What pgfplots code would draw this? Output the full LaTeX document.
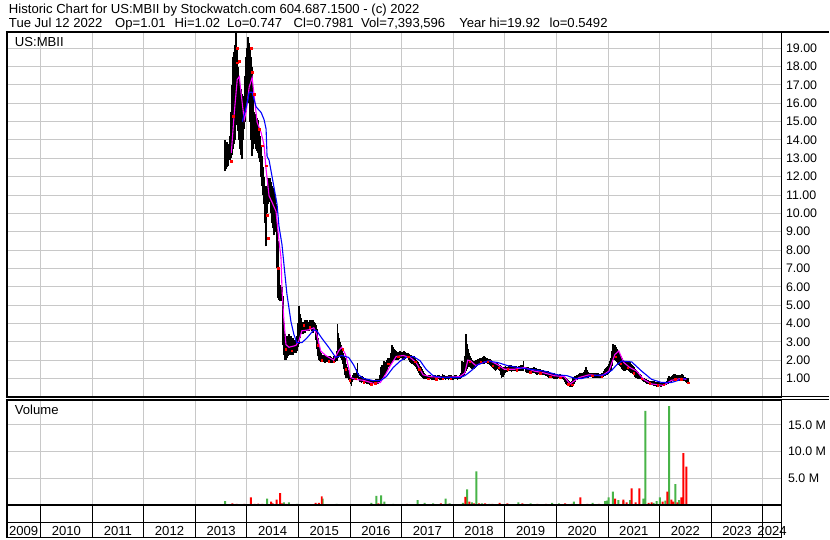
\documentclass[border=0pt]{standalone}
\usepackage{pgfplots}
\usepackage{pgfplotstable}
\pgfplotsset{compat=1.18}
\usepackage{fontspec}
\setmainfont{Liberation Sans}
\definecolor{bgc}{RGB}{255,255,255}
\definecolor{gridc}{RGB}{200,200,200}
\definecolor{volg}{RGB}{72,180,72}
\definecolor{magc}{RGB}{255,0,255}
\newcommand{\cf}{\fontsize{12.5}{14}\selectfont}
\newcommand{\hf}{\fontsize{13.2}{15}\selectfont}

\pgfplotstableread{
x lo hi
2013.582 12.3 14.0
2013.601 12.4 13.9
2013.621 12.5 13.9
2013.640 12.6 13.8
2013.659 12.9 13.8
2013.679 12.9 14.2
2013.698 13.0 15.5
2013.717 13.2 17.0
2013.736 13.5 18.5
2013.756 13.8 18.8
2013.775 14.0 19.2
2013.794 15.0 19.9
2013.813 14.8 19.0
2013.833 14.5 18.0
2013.852 14.0 17.5
2013.871 13.5 17.0
2013.891 13.2 16.8
2013.910 12.96 16.5
2013.929 14.0 16.4
2013.948 14.6 16.4
2013.968 15.0 17.5
2013.987 15.5 18.5
2014.006 16.0 19.0
2014.025 16.5 19.6
2014.045 16.0 19.3
2014.064 15.0 19.0
2014.083 14.0 18.5
2014.102 13.1 18.0
2014.122 13.5 16.5
2014.141 14.0 15.5
2014.160 13.8 15.4
2014.179 13.5 15.3
2014.199 13.4 15.2
2014.218 13.3 15.1
2014.237 13.0 14.6
2014.256 12.8 14.2
2014.276 12.0 13.6
2014.295 11.5 13.1
2014.314 11.0 12.5
2014.334 10.5 12.0
2014.353 9.5 11.5
2014.372 8.2 11.0
2014.391 10.0 11.5
2014.411 10.5 11.9
2014.430 10.6 11.9
2014.449 10.6 11.9
2014.468 10.0 11.7
2014.488 9.5 11.5
2014.507 9.2 11.4
2014.526 8.8 11.3
2014.545 9.0 10.9
2014.565 9.3 10.5
2014.584 7.0 9.5
2014.603 5.4 8.5
2014.622 5.3 7.0
2014.642 5.2 6.1
2014.661 5.2 6.0
2014.680 5.3 6.0
2014.699 2.8 5.5
2014.718 2.3 4.0
2014.738 2.0 3.4
2014.757 2.0 3.3
2014.776 2.1 3.2
2014.796 2.2 3.3
2014.815 2.3 3.4
2014.834 2.3 3.3
2014.854 2.4 3.3
2014.873 2.3 3.2
2014.892 2.3 3.2
2014.911 2.4 3.1
2014.931 2.4 3.0
2014.950 2.4 3.2
2014.969 2.5 3.3
2014.989 2.7 4.0
2015.008 2.9 4.95
2015.027 3.2 4.5
2015.046 3.4 4.3
2015.065 3.4 4.1
2015.085 3.4 4.0
2015.104 3.5 4.1
2015.123 3.5 4.2
2015.142 3.6 4.2
2015.162 3.6 4.2
2015.181 3.6 4.1
2015.200 3.6 4.1
2015.219 3.7 4.2
2015.239 3.7 4.2
2015.258 3.6 4.2
2015.277 3.5 4.2
2015.297 3.6 4.1
2015.316 3.6 4.0
2015.335 3.1 3.9
2015.354 2.6 3.7
2015.374 2.2 3.2
2015.393 2.0 2.8
2015.412 1.95 2.6
2015.431 1.9 2.4
2015.460 1.9 2.3
2015.489 1.9 2.3
2015.518 1.85 2.2
2015.547 1.9 2.2
2015.576 1.9 2.25
2015.605 1.9 2.2
2015.634 1.85 2.15
2015.662 1.85 2.1
2015.691 1.9 2.2
2015.720 1.9 2.2
2015.740 1.95 2.5
2015.759 2.0 3.98
2015.778 2.1 3.5
2015.797 2.2 3.2
2015.817 2.1 3.0
2015.836 2.0 2.8
2015.855 1.8 2.6
2015.874 1.5 2.4
2015.894 1.2 2.2
2015.913 1.05 2.1
2015.932 1.0 1.8
2015.951 1.0 1.6
2015.971 0.9 1.45
2015.990 0.8 1.3
2016.009 0.7 1.2
2016.028 0.6 1.1
2016.048 0.8 1.2
2016.067 0.9 1.3
2016.086 0.92 1.3
2016.105 0.95 1.3
2016.125 1.0 1.5
2016.144 1.0 1.87
2016.163 0.9 1.3
2016.182 0.8 1.1
2016.202 0.78 1.12
2016.221 0.75 1.15
2016.240 0.78 1.12
2016.260 0.8 1.1
2016.288 0.75 1.0
2016.317 0.7 0.95
2016.346 0.68 0.95
2016.375 0.65 0.95
2016.404 0.65 0.9
2016.433 0.62 0.9
2016.462 0.68 0.92
2016.491 0.7 0.95
2016.520 0.7 0.95
2016.548 0.7 0.95
2016.568 0.8 1.2
2016.587 0.9 1.4
2016.606 0.95 1.6
2016.625 1.0 1.75
2016.645 1.1 1.85
2016.664 1.2 1.95
2016.683 1.25 1.9
2016.702 1.3 1.9
2016.722 1.45 2.0
2016.741 1.6 2.1
2016.760 1.65 2.1
2016.780 1.7 2.1
2016.799 1.8 2.4
2016.818 1.9 2.8
2016.837 1.95 2.7
2016.857 2.0 2.6
2016.876 2.0 2.55
2016.895 2.0 2.5
2016.915 2.0 2.45
2016.934 2.0 2.4
2016.953 2.05 2.45
2016.972 2.1 2.5
2016.992 2.1 2.45
2017.011 2.1 2.4
2017.030 2.05 2.45
2017.049 2.0 2.5
2017.069 2.05 2.45
2017.088 2.1 2.4
2017.107 2.1 2.4
2017.126 2.1 2.4
2017.146 2.0 2.35
2017.165 1.9 2.3
2017.184 1.85 2.28
2017.203 1.8 2.25
2017.223 1.78 2.22
2017.242 1.75 2.2
2017.261 1.7 2.1
2017.280 1.6 2.0
2017.300 1.5 1.95
2017.319 1.4 1.9
2017.338 1.3 1.8
2017.357 1.2 1.7
2017.377 1.15 1.6
2017.396 1.1 1.5
2017.415 1.0 1.4
2017.434 0.95 1.3
2017.454 0.95 1.25
2017.473 0.95 1.2
2017.502 0.92 1.15
2017.531 0.95 1.2
2017.560 0.95 1.18
2017.588 0.9 1.15
2017.617 0.92 1.2
2017.646 0.9 1.2
2017.675 0.95 1.15
2017.704 0.95 1.2
2017.733 0.92 1.18
2017.762 0.9 1.15
2017.791 0.95 1.22
2017.820 0.95 1.2
2017.849 0.92 1.15
2017.877 0.95 1.15
2017.906 0.9 1.2
2017.935 0.95 1.2
2017.964 0.92 1.18
2017.993 0.9 1.15
2018.022 0.95 1.2
2018.051 0.95 1.2
2018.080 0.92 1.15
2018.108 0.95 1.15
2018.128 0.98 1.2
2018.147 1.0 1.3
2018.166 1.1 1.95
2018.186 1.15 1.9
2018.205 1.2 1.9
2018.224 1.3 2.2
2018.243 1.4 3.4
2018.263 1.5 2.9
2018.282 1.6 2.6
2018.301 1.6 2.4
2018.320 1.6 2.2
2018.340 1.55 2.1
2018.359 1.5 2.0
2018.378 1.5 1.95
2018.397 1.5 1.9
2018.417 1.55 1.95
2018.436 1.6 2.0
2018.455 1.7 2.02
2018.474 1.75 2.05
2018.494 1.78 2.08
2018.513 1.8 2.1
2018.532 1.8 2.1
2018.551 1.8 2.1
2018.571 1.8 2.15
2018.590 1.8 2.2
2018.609 1.82 2.15
2018.628 1.85 2.1
2018.648 1.82 2.1
2018.667 1.8 2.1
2018.686 1.78 2.08
2018.706 1.75 2.05
2018.725 1.7 2.02
2018.744 1.6 2.0
2018.763 1.55 1.95
2018.783 1.5 1.9
2018.802 1.45 1.85
2018.821 1.4 1.8
2018.840 1.45 1.82
2018.860 1.5 1.85
2018.879 1.45 1.8
2018.898 1.4 1.75
2018.918 1.2 1.72
2018.937 1.05 1.7
2018.956 1.08 1.65
2018.975 1.1 1.6
2018.995 1.2 1.65
2019.014 1.3 1.7
2019.043 1.35 1.65
2019.071 1.4 1.7
2019.100 1.38 1.72
2019.129 1.35 1.75
2019.158 1.4 1.7
2019.187 1.4 1.7
2019.216 1.38 1.68
2019.245 1.35 1.65
2019.274 1.4 1.7
2019.303 1.4 1.75
2019.332 1.42 1.72
2019.360 1.4 1.97
2019.399 1.35 1.6
2019.428 1.32 1.6
2019.457 1.3 1.6
2019.486 1.28 1.58
2019.514 1.25 1.55
2019.543 1.28 1.58
2019.572 1.3 1.6
2019.601 1.25 1.55
2019.630 1.2 1.5
2019.659 1.22 1.5
2019.688 1.25 1.5
2019.717 1.22 1.48
2019.746 1.2 1.45
2019.775 1.18 1.42
2019.803 1.15 1.4
2019.832 1.1 1.38
2019.861 1.05 1.35
2019.890 1.02 1.32
2019.919 1.0 1.3
2019.948 0.98 1.28
2019.977 0.95 1.25
2020.006 0.98 1.22
2020.034 1.0 1.2
2020.063 1.0 1.22
2020.092 1.0 1.2
2020.121 0.95 1.15
2020.150 0.9 1.1
2020.169 0.8 1.08
2020.188 0.7 1.05
2020.208 0.65 0.95
2020.227 0.6 0.9
2020.246 0.58 0.85
2020.266 0.55 0.8
2020.285 0.55 0.82
2020.304 0.55 0.85
2020.323 0.6 1.0
2020.343 0.7 1.1
2020.362 0.8 1.12
2020.381 0.9 1.15
2020.400 0.92 1.18
2020.420 0.95 1.2
2020.439 0.98 1.25
2020.458 1.0 1.3
2020.478 1.02 1.3
2020.497 1.05 1.3
2020.516 1.02 1.32
2020.535 1.0 1.35
2020.555 1.05 1.45
2020.574 1.1 1.6
2020.593 1.08 1.45
2020.612 1.05 1.35
2020.641 1.08 1.32
2020.670 1.1 1.3
2020.699 1.05 1.3
2020.728 1.0 1.3
2020.757 1.05 1.28
2020.786 1.05 1.3
2020.815 1.02 1.28
2020.843 1.0 1.25
2020.872 1.05 1.28
2020.901 1.1 1.3
2020.920 1.12 1.4
2020.940 1.15 1.5
2020.959 1.18 1.55
2020.978 1.2 1.6
2020.998 1.25 1.7
2021.017 1.3 1.8
2021.036 1.35 1.95
2021.055 1.4 2.1
2021.075 1.7 2.5
2021.094 2.0 2.9
2021.113 2.0 2.85
2021.132 2.0 2.8
2021.152 1.95 2.7
2021.171 1.9 2.6
2021.190 1.8 2.5
2021.209 1.75 2.4
2021.229 1.7 2.3
2021.248 1.6 2.2
2021.267 1.5 2.1
2021.286 1.45 2.0
2021.306 1.42 1.95
2021.325 1.4 1.9
2021.344 1.45 1.92
2021.363 1.5 1.95
2021.383 1.45 1.95
2021.402 1.4 1.95
2021.421 1.35 1.88
2021.440 1.3 1.8
2021.460 1.28 1.75
2021.479 1.25 1.7
2021.498 1.18 1.6
2021.517 1.1 1.5
2021.537 1.05 1.45
2021.556 1.0 1.4
2021.575 0.98 1.35
2021.594 0.95 1.3
2021.614 0.95 1.25
2021.633 0.95 1.2
2021.652 0.9 1.12
2021.672 0.85 1.05
2021.691 0.82 1.02
2021.710 0.8 1.0
2021.730 0.75 0.98
2021.749 0.7 0.95
2021.768 0.7 0.92
2021.787 0.7 0.9
2021.806 0.68 0.88
2021.826 0.65 0.85
2021.845 0.63 0.85
2021.864 0.62 0.85
2021.884 0.61 0.85
2021.903 0.6 0.85
2021.922 0.58 0.82
2021.941 0.55 0.8
2021.960 0.58 0.8
2021.980 0.6 0.8
2021.999 0.58 0.78
2022.018 0.55 0.75
2022.038 0.56 0.78
2022.057 0.58 0.8
2022.076 0.59 0.8
2022.095 0.6 0.8
2022.114 0.62 0.82
2022.134 0.65 0.85
2022.153 0.68 1.0
2022.172 0.7 1.15
2022.192 0.75 1.12
2022.211 0.8 1.1
2022.230 0.82 1.15
2022.249 0.85 1.2
2022.268 0.88 1.22
2022.288 0.9 1.25
2022.307 0.88 1.22
2022.326 0.85 1.2
2022.345 0.88 1.2
2022.365 0.9 1.2
2022.384 0.88 1.2
2022.403 0.85 1.2
2022.423 0.88 1.22
2022.442 0.9 1.25
2022.461 0.88 1.18
2022.480 0.85 1.1
2022.500 0.8 1.08
2022.519 0.75 1.05
2022.538 0.75 1.03
2022.558 0.747 1.02
}\pricetab

\pgfplotstableread{
x v
2013.577 0.7
2014.391 1.2
2014.719 0.5
2014.815 0.5
2014.969 0.2
2015.469 1.2
2015.739 0.2
2016.414 0.4
2016.510 1.7
2016.600 1.8
2016.664 0.6
2016.837 0.2
2017.309 0.9
2017.447 0.4
2017.608 0.3
2017.852 1.2
2017.929 0.3
2018.186 0.4
2018.268 2.9
2018.359 0.5
2018.449 6.3
2018.560 0.3
2018.700 0.2
2019.264 0.5
2019.500 0.3
2019.919 0.4
2020.050 0.3
2020.337 0.6
2020.700 0.4
2020.945 0.7
2020.980 0.8
2021.011 1.4
2021.094 2.5
2021.203 0.9
2021.300 0.7
2021.427 0.9
2021.684 1.2
2021.723 17.6
2021.883 0.4
2021.941 0.7
2022.005 1.4
2022.114 0.8
2022.186 18.5
2022.307 3.9
2022.378 0.9
}\volgreen

\pgfplotstableread{
x v
2013.717 0.3
2013.800 0.2
2013.950 0.2
2014.077 1.4
2014.150 0.2
2014.220 0.25
2014.300 0.2
2014.468 0.6
2014.500 0.3
2014.578 1.0
2014.642 2.2
2014.680 0.3
2014.760 0.2
2015.330 0.4
2015.393 0.4
2015.451 1.6
2016.119 0.15
2016.548 0.3
2016.620 0.2
2017.100 0.2
2017.762 0.3
2017.900 0.2
2018.237 1.5
2018.314 0.6
2018.400 0.3
2018.500 0.3
2018.620 0.3
2018.760 0.2
2018.898 0.4
2019.050 0.3
2019.341 0.3
2019.630 0.2
2019.800 0.2
2020.169 0.3
2020.300 0.2
2020.464 1.4
2020.600 0.2
2020.824 0.2
2021.138 1.2
2021.299 1.0
2021.363 0.5
2021.459 3.1
2021.536 0.5
2021.607 3.1
2021.787 0.4
2021.845 0.5
2022.057 0.6
2022.153 2.5
2022.230 1.0
2022.268 0.6
2022.345 0.5
2022.423 1.4
2022.461 9.7
2022.519 7.2
}\volred

\begin{document}
\begin{tikzpicture}
\fill[bgc] (0pt,0pt) rectangle (830pt,543pt);

% ---------- price panel ----------
\begin{axis}[
  at={(1pt,143pt)}, anchor=south west, scale only axis,
  width=781pt, height=368pt,
  xmin=2009.346, xmax=2024.365, ymin=0, ymax=19.9,
  axis background/.style={fill=white},
  axis line style={line width=1.6pt},
  xtick={2010,2011,...,2024}, xticklabels={},
  ytick={1,2,...,19},
  yticklabel pos=right,
  major tick length=0pt,
  grid=major, grid style={gridc, line width=1pt},
  tick label style={font=\cf},
  /pgf/number format/assume math mode=true,
  yticklabel style={anchor=west, xshift=1pt, /pgf/number format/.cd, fixed, fixed zerofill, precision=2},
]
\addplot[draw=none, mark=none, forget plot,
  error bars/.cd, y dir=plus, y explicit, error mark=none,
  error bar style={draw=black, line width=1.7pt}]
  table[x=x, y=lo, y error expr=\thisrow{hi}-\thisrow{lo}] {\pricetab};
\addplot[only marks, mark=square*, mark size=0.75pt, red] coordinates {
(2013.698,12.85)(2013.736,15.3)(2013.813,19.0)(2013.813,18.2)(2013.852,18.3)
(2014.083,19.0)(2014.102,17.7)(2014.141,16.5)(2014.237,14.6)(2014.295,13.7)
(2014.372,12.6)(2014.391,9.9)(2014.411,8.65)(2014.603,7.0)(2014.757,2.6)
(2014.873,2.5)(2015.104,3.9)(2015.219,3.8)(2015.374,2.8)(2015.451,2.0)
(2015.585,1.95)(2015.682,1.9)(2015.855,2.6)(2015.913,1.5)(2015.990,0.9)
(2016.105,1.0)(2016.260,0.8)(2016.414,0.7)(2016.491,0.75)(2016.741,1.8)
(2016.934,2.2)(2017.126,2.2)(2017.261,1.9)(2017.338,1.5)(2017.511,1.0)
(2017.665,0.95)(2017.800,1.0)(2017.954,1.0)(2018.320,1.9)(2018.532,1.9)
(2018.667,1.9)(2018.763,1.7)(2018.879,1.6)(2019.052,1.5)(2019.226,1.45)
(2019.495,1.35)(2019.688,1.3)(2019.880,1.1)(2020.073,1.05)(2020.227,0.7)
(2020.304,0.65)(2020.689,1.15)(2020.882,1.1)(2021.152,2.2)(2021.248,1.8)
(2021.383,1.6)(2021.498,1.3)(2021.652,1.0)(2021.806,0.75)(2021.960,0.62)
(2022.076,0.65)(2022.307,0.95)(2022.423,0.95)(2022.558,0.78)};
\addplot[magc, line width=1.1pt] coordinates {
(2013.698,13.3)(2013.756,15.5)(2013.813,17.3)(2013.852,17.45)(2013.910,16.0)
(2013.948,15.1)(2013.987,15.55)(2014.045,16.9)(2014.102,17.4)(2014.141,16.4)
(2014.199,14.96)(2014.276,14.4)(2014.334,13.7)(2014.372,12.4)(2014.430,10.95)
(2014.488,10.6)(2014.565,10.1)(2014.622,8.5)(2014.661,7.6)(2014.680,5.9)
(2014.719,4.1)(2014.757,2.85)(2014.815,2.7)(2014.950,2.8)(2015.008,3.05)
(2015.065,3.6)(2015.200,3.65)(2015.297,3.76)(2015.354,3.4)(2015.431,2.5)
(2015.528,2.25)(2015.682,2.0)(2015.778,2.5)(2015.836,2.7)(2015.913,2.3)
(2015.971,1.6)(2016.009,1.05)(2016.105,0.95)(2016.260,0.9)(2016.452,0.73)
(2016.587,0.78)(2016.683,1.2)(2016.780,1.7)(2016.895,2.2)(2017.030,2.25)
(2017.165,2.15)(2017.280,1.87)(2017.415,1.2)(2017.550,1.1)(2017.800,1.05)
(2018.128,1.1)(2018.224,1.3)(2018.282,2.0)(2018.340,1.95)(2018.436,1.7)
(2018.609,1.9)(2018.725,1.95)(2018.860,1.75)(2018.994,1.5)(2019.187,1.5)
(2019.380,1.6)(2019.572,1.4)(2019.765,1.3)(2019.957,1.15)(2020.150,1.1)
(2020.266,0.7)(2020.362,0.9)(2020.439,1.05)(2020.632,1.2)(2020.882,1.15)
(2021.017,1.4)(2021.132,2.3)(2021.209,2.5)(2021.306,1.87)(2021.421,1.6)
(2021.556,1.4)(2021.691,0.95)(2021.845,0.7)(2022.076,0.62)(2022.230,0.9)
(2022.423,1.0)(2022.519,0.95)};
\addplot[blue, line width=1.1pt] coordinates {
(2013.910,15.0)(2013.987,15.8)(2014.045,16.6)(2014.102,16.6)(2014.179,15.8)
(2014.276,15.5)(2014.334,15.1)(2014.372,14.6)(2014.391,13.1)(2014.430,12.9)
(2014.488,12.0)(2014.526,11.4)(2014.584,10.5)(2014.622,9.3)(2014.680,8.3)
(2014.719,7.2)(2014.776,5.6)(2014.854,4.1)(2014.911,3.4)(2014.969,2.95)
(2015.065,2.95)(2015.162,3.2)(2015.297,3.65)(2015.354,3.6)(2015.451,3.2)
(2015.585,2.7)(2015.720,2.15)(2015.836,2.25)(2015.971,2.15)(2016.067,1.75)
(2016.163,1.2)(2016.260,1.0)(2016.452,0.88)(2016.587,0.88)(2016.702,1.1)
(2016.837,1.6)(2016.972,1.95)(2017.088,2.15)(2017.222,2.2)(2017.357,1.97)
(2017.473,1.5)(2017.608,1.15)(2017.800,1.05)(2018.128,1.05)(2018.224,1.15)
(2018.340,1.4)(2018.474,1.75)(2018.667,1.95)(2018.860,1.87)(2019.052,1.7)
(2019.245,1.6)(2019.495,1.5)(2019.765,1.4)(2020.015,1.2)(2020.208,1.15)
(2020.362,1.0)(2020.497,1.0)(2020.689,1.15)(2020.940,1.2)(2021.075,1.45)
(2021.171,1.75)(2021.267,1.95)(2021.460,1.9)(2021.652,1.4)(2021.845,0.95)
(2022.038,0.78)(2022.230,0.78)(2022.423,0.95)(2022.519,1.0)};
\end{axis}

% ---------- volume panel ----------
\begin{axis}[
  at={(1pt,34pt)}, anchor=south west, scale only axis,
  width=781pt, height=106pt,
  xmin=2009.346, xmax=2024.365, ymin=0, ymax=19.7,
  axis background/.style={fill=white},
  axis line style={line width=1.6pt},
  xtick={2010,2011,...,2024}, xticklabels={},
  ytick={5,10,15}, yticklabels={5.0 M,10.0 M,15.0 M},
  yticklabel pos=right,
  major tick length=0pt,
  grid=major, grid style={gridc, line width=1pt},
  tick label style={font=\cf},
  yticklabel style={anchor=west, xshift=3pt},
  ybar, bar width=2pt, bar shift=0pt,
]
\addplot[fill=volg, draw=none] table[x=x, y=v] {\volgreen};
\addplot[fill=red, draw=none] table[x=x, y=v] {\volred};
\end{axis}

% ---------- date strip ----------
\begin{axis}[
  at={(1pt,1.3pt)}, anchor=south west, scale only axis,
  width=781pt, height=32.7pt,
  xmin=2009.346, xmax=2024.365, ymin=0, ymax=32.7,
  axis line style={line width=1.6pt},
  xtick={2009.673,2010.5,2011.5,2012.5,2013.5,2014.5,2015.5,2016.5,2017.5,2018.5,2019.5,2020.5,2021.5,2022.5,2023.5,2024.18},
  xticklabels={2009,2010,2011,2012,2013,2014,2015,2016,2017,2018,2019,2020,2021,2022,2023,2024},
  minor xtick={2010,2011,...,2024},
  xminorgrids=true, minor grid style={black, line width=1pt},
  ytick=\empty,
  extra y ticks={15}, extra y tick labels={},
  extra y tick style={grid=major, major grid style={black, line width=1.6pt}},
  major tick length=0pt, minor tick length=0pt,
  tick label style={font=\hf},
  xticklabel style={anchor=center, yshift=6pt},
]
\end{axis}

\draw[line width=1.6pt] (0pt,511pt) -- (830pt,511pt);
\draw[line width=1.2pt] (0pt,143pt) -- (830pt,143pt);
\draw[line width=1.2pt] (0pt,140pt) -- (830pt,140pt);

\node[anchor=base west, inner sep=0, font=\hf] at (3pt,529pt) {Historic Chart for US:MBII by Stockwatch.com 604.687.1500 - (c) 2022};
\node[anchor=base west, inner sep=0, font=\hf] at (3pt,515.5pt) {Tue Jul 12 2022};
\node[anchor=base west, inner sep=0, font=\hf] at (110pt,515.5pt) {Op=1.01};
\node[anchor=base west, inner sep=0, font=\hf] at (170pt,515.5pt) {Hi=1.02};
\node[anchor=base west, inner sep=0, font=\hf] at (223pt,515.5pt) {Lo=0.747};
\node[anchor=base west, inner sep=0, font=\hf] at (290pt,515.5pt) {Cl=0.7981};
\node[anchor=base west, inner sep=0, font=\hf] at (358pt,515.5pt) {Vol=7,393,596};
\node[anchor=base west, inner sep=0, font=\hf] at (457pt,515.5pt) {Year hi=19.92};
\node[anchor=base west, inner sep=0, font=\hf] at (548pt,515.5pt) {lo=0.5492};
\node[anchor=west, inner sep=0, font=\hf] at (9pt,501pt) {US:MBII};
\node[anchor=west, inner sep=0, font=\hf] at (9pt,130pt) {Volume};
\end{tikzpicture}
\end{document}
